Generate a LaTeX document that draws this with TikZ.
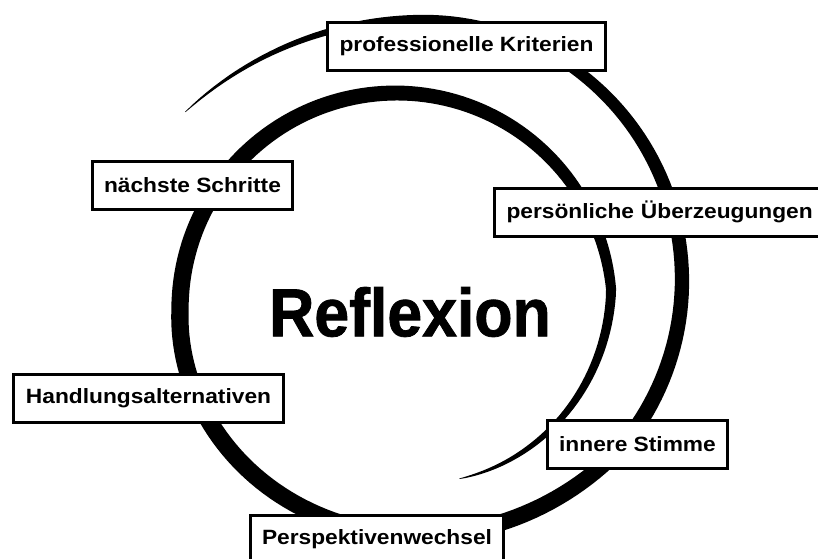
\documentclass[tikz,border=0pt]{standalone}
\usepackage{fontspec}
\setmainfont{Liberation Sans}
\newfontfamily\termfont{Liberation Sans}[FakeStretch=1.1]
\newfontfamily\titlefont{Liberation Sans}[FakeStretch=0.92, FakeBold=1.2]
\usetikzlibrary{positioning}

\begin{document}
\begin{tikzpicture}[
    x=0.75pt, y=-0.75pt,
    term/.style={draw, line width=2.25pt, fill=white, minimum height=36pt, inner xsep=9pt, font=\termfont\bfseries\fontsize{15.5}{17}\selectfont},
    title/.style={font=\titlefont\bfseries\fontsize{51}{54}\selectfont},
    declare function={
      bl(\a)=min(max((\a-400)/140,0),1);
      ee(\a)=max(270-\a,0)/55;
      cx(\a)=421-25*bl(\a);
      cy(\a)=280+29*bl(\a);
      rr(\a)=261-45*bl(\a)+29*ee(\a)*ee(\a)-35*max(\a-715,0)/75;
      ww(\a)=17.5*pow(max(sin((\a-215)/575*180),0.0001),0.6);
    },
]
    \useasboundingbox (0,0) rectangle (818,558);

    % Spiral
    \fill plot[domain=215.5:789.5, samples=300] ({cx(\x)+(rr(\x)+ww(\x)/2)*cos(\x)}, {cy(\x)+(rr(\x)+ww(\x)/2)*sin(\x)})
      -- plot[domain=789.5:215.5, samples=300] ({cx(\x)+(rr(\x)-ww(\x)/2)*cos(\x)}, {cy(\x)+(rr(\x)-ww(\x)/2)*sin(\x)}) -- cycle;

    % Centre
    \node[title] (refl) at (410,312) {Reflexion};

    % Terms
    \node[term] (crit) at (466.5,46) {professionelle Kriterien};
    \node[term, anchor=west, text width=235pt, align=left] (belief) at (493,212) {persönliche Überzeugungen};
    \node[term] (voice) at (637.5,444) {innere Stimme};
    \node[term] (persp) at (377,539) {Perspektivenwechsel};
    \node[term] (alt) at (148.5,398.5) {Handlungsalternativen};
    \node[term] (steps) at (192.5,185) {nächste Schritte};

\end{tikzpicture}
\end{document}
